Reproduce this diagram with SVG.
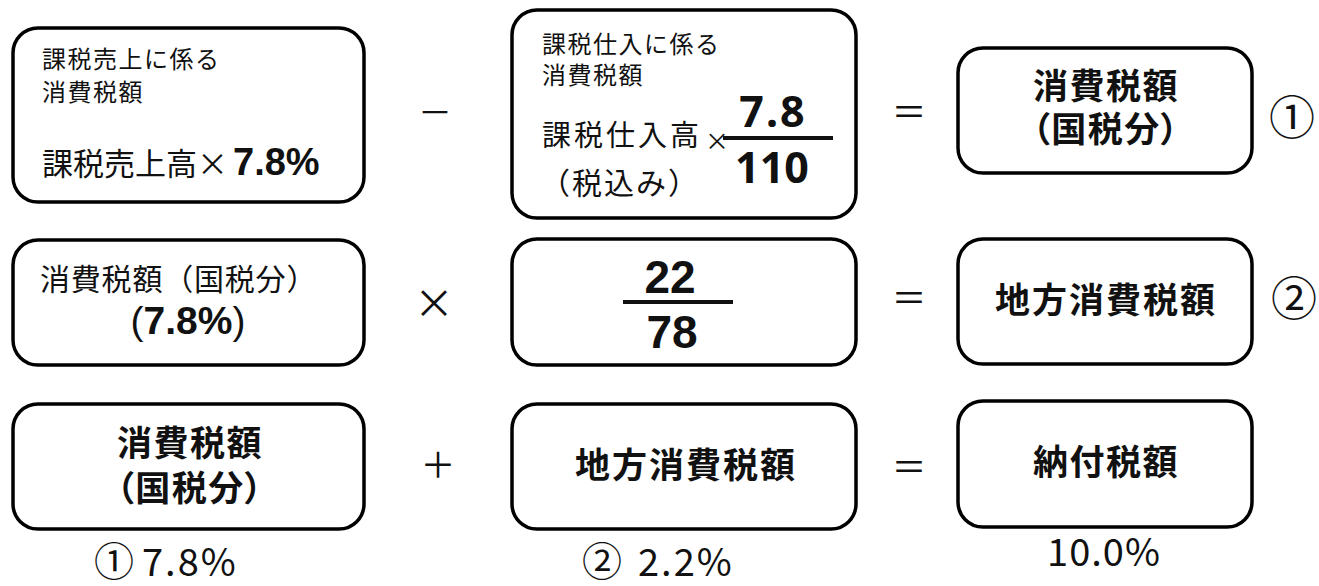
<svg xmlns="http://www.w3.org/2000/svg" width="1319" height="586" viewBox="0 0 1319 586">
<style>
.box{fill:#fff;stroke:#000;stroke-width:3.5}
.jp{font-family:"Noto Sans CJK JP","Noto Sans",sans-serif;fill:#111}
.lat{font-family:"Liberation Sans",Arial,sans-serif;fill:#111}
.num{font-family:"Noto Sans","Noto Sans CJK JP",sans-serif;fill:#111;font-weight:bold}
.b{font-weight:bold}
.palt{font-feature-settings:"palt"}
.bar{stroke:#111;stroke-width:4}
.mid{text-anchor:middle}
</style>
<rect width="1319" height="586" fill="#fff"/>

<g id="n1">
<rect class="box" x="13" y="28" width="351" height="174" rx="25"/>
<text class="jp" x="42" y="68" font-size="24" letter-spacing="1.5">課税売上に係る</text>
<text class="jp" x="42" y="101" font-size="24" letter-spacing="1.5">消費税額</text>
<text class="jp" x="42" y="175" font-size="31">課税売上高×</text>
<text class="lat b" x="233" y="175" font-size="38">7.8%</text>
</g>

<g id="n2">
<rect class="box" x="512" y="10" width="344" height="208" rx="25"/>
<text class="jp" x="542" y="53" font-size="24" letter-spacing="1.5">課税仕入に係る</text>
<text class="jp" x="542" y="84" font-size="24" letter-spacing="1.5">消費税額</text>
<text class="jp" x="542" y="146" font-size="29" letter-spacing="3">課税仕入高</text>
<text class="jp mid" x="717" y="150" font-size="24">×</text>
<text class="jp" x="540" y="194" font-size="30" letter-spacing="2">（税込み）</text>
<text class="num mid" x="773" y="127" font-size="43" letter-spacing="2">7.8</text>
<line class="bar" x1="723" y1="138" x2="833" y2="138"/>
<text class="num mid" x="772" y="183" font-size="43">110</text>
</g>

<g id="n3">
<rect class="box" x="958" y="48" width="294" height="125" rx="25"/>
<text class="jp b mid" x="1106" y="99" font-size="35" letter-spacing="1.5">消費税額</text>
<text class="jp b mid palt" x="1106" y="142" font-size="35" letter-spacing="1.5">（国税分）</text>
</g>

<g id="n4">
<rect class="box" x="13" y="240" width="351" height="125" rx="25"/>
<text class="jp" x="40" y="290" font-size="30" letter-spacing="0.8">消費税額（国税分）</text>
<text class="lat mid" x="188" y="334" font-size="39">(<tspan class="b">7.8%</tspan>)</text>
</g>

<g id="n5">
<rect class="box" x="512" y="239" width="344" height="126" rx="25"/>
<text class="lat b mid" x="670" y="293" font-size="46">22</text>
<line class="bar" x1="623" y1="302" x2="733" y2="302"/>
<text class="lat b mid" x="672" y="348" font-size="46">78</text>
</g>

<g id="n6">
<rect class="box" x="958" y="239" width="294" height="125" rx="25"/>
<text class="jp b mid" x="1106" y="313" font-size="35" letter-spacing="2">地方消費税額</text>
</g>

<g id="n7">
<rect class="box" x="13" y="404" width="351" height="125" rx="25"/>
<text class="jp b mid" x="190" y="456" font-size="35" letter-spacing="1.5">消費税額</text>
<text class="jp b mid palt" x="190" y="501" font-size="35" letter-spacing="1.5">（国税分）</text>
</g>

<g id="n8">
<rect class="box" x="512" y="404" width="344" height="125" rx="25"/>
<text class="jp b mid" x="686" y="478" font-size="35" letter-spacing="2">地方消費税額</text>
</g>

<g id="n9">
<rect class="box" x="958" y="401" width="294" height="126" rx="25"/>
<text class="jp b mid" x="1106" y="475" font-size="35" letter-spacing="1.5">納付税額</text>
</g>

<g id="operators">
<text class="jp mid" x="435" y="125" font-size="34">－</text>
<text class="jp mid" x="909" y="125" font-size="35">＝</text>
<text class="jp mid" x="1292" y="134" font-size="46">①</text>
<text class="jp mid" x="434" y="318" font-size="40">×</text>
<text class="jp mid" x="909" y="311" font-size="35">＝</text>
<text class="jp mid" x="1294" y="315" font-size="46">②</text>
<text class="jp mid" x="438" y="478" font-size="35">＋</text>
<text class="jp mid" x="909" y="480" font-size="35">＝</text>
</g>

<g id="labels">
<text class="jp mid" x="114" y="576" font-size="40">①</text>
<text class="jp" x="142" y="576" font-size="38" letter-spacing="2">7.8%</text>
<text class="jp mid" x="602" y="576" font-size="40">②</text>
<text class="jp" x="638" y="576" font-size="38" letter-spacing="2">2.2%</text>
<text class="jp mid" x="1104" y="566" font-size="38" letter-spacing="1">10.0%</text>
</g>
</svg>
